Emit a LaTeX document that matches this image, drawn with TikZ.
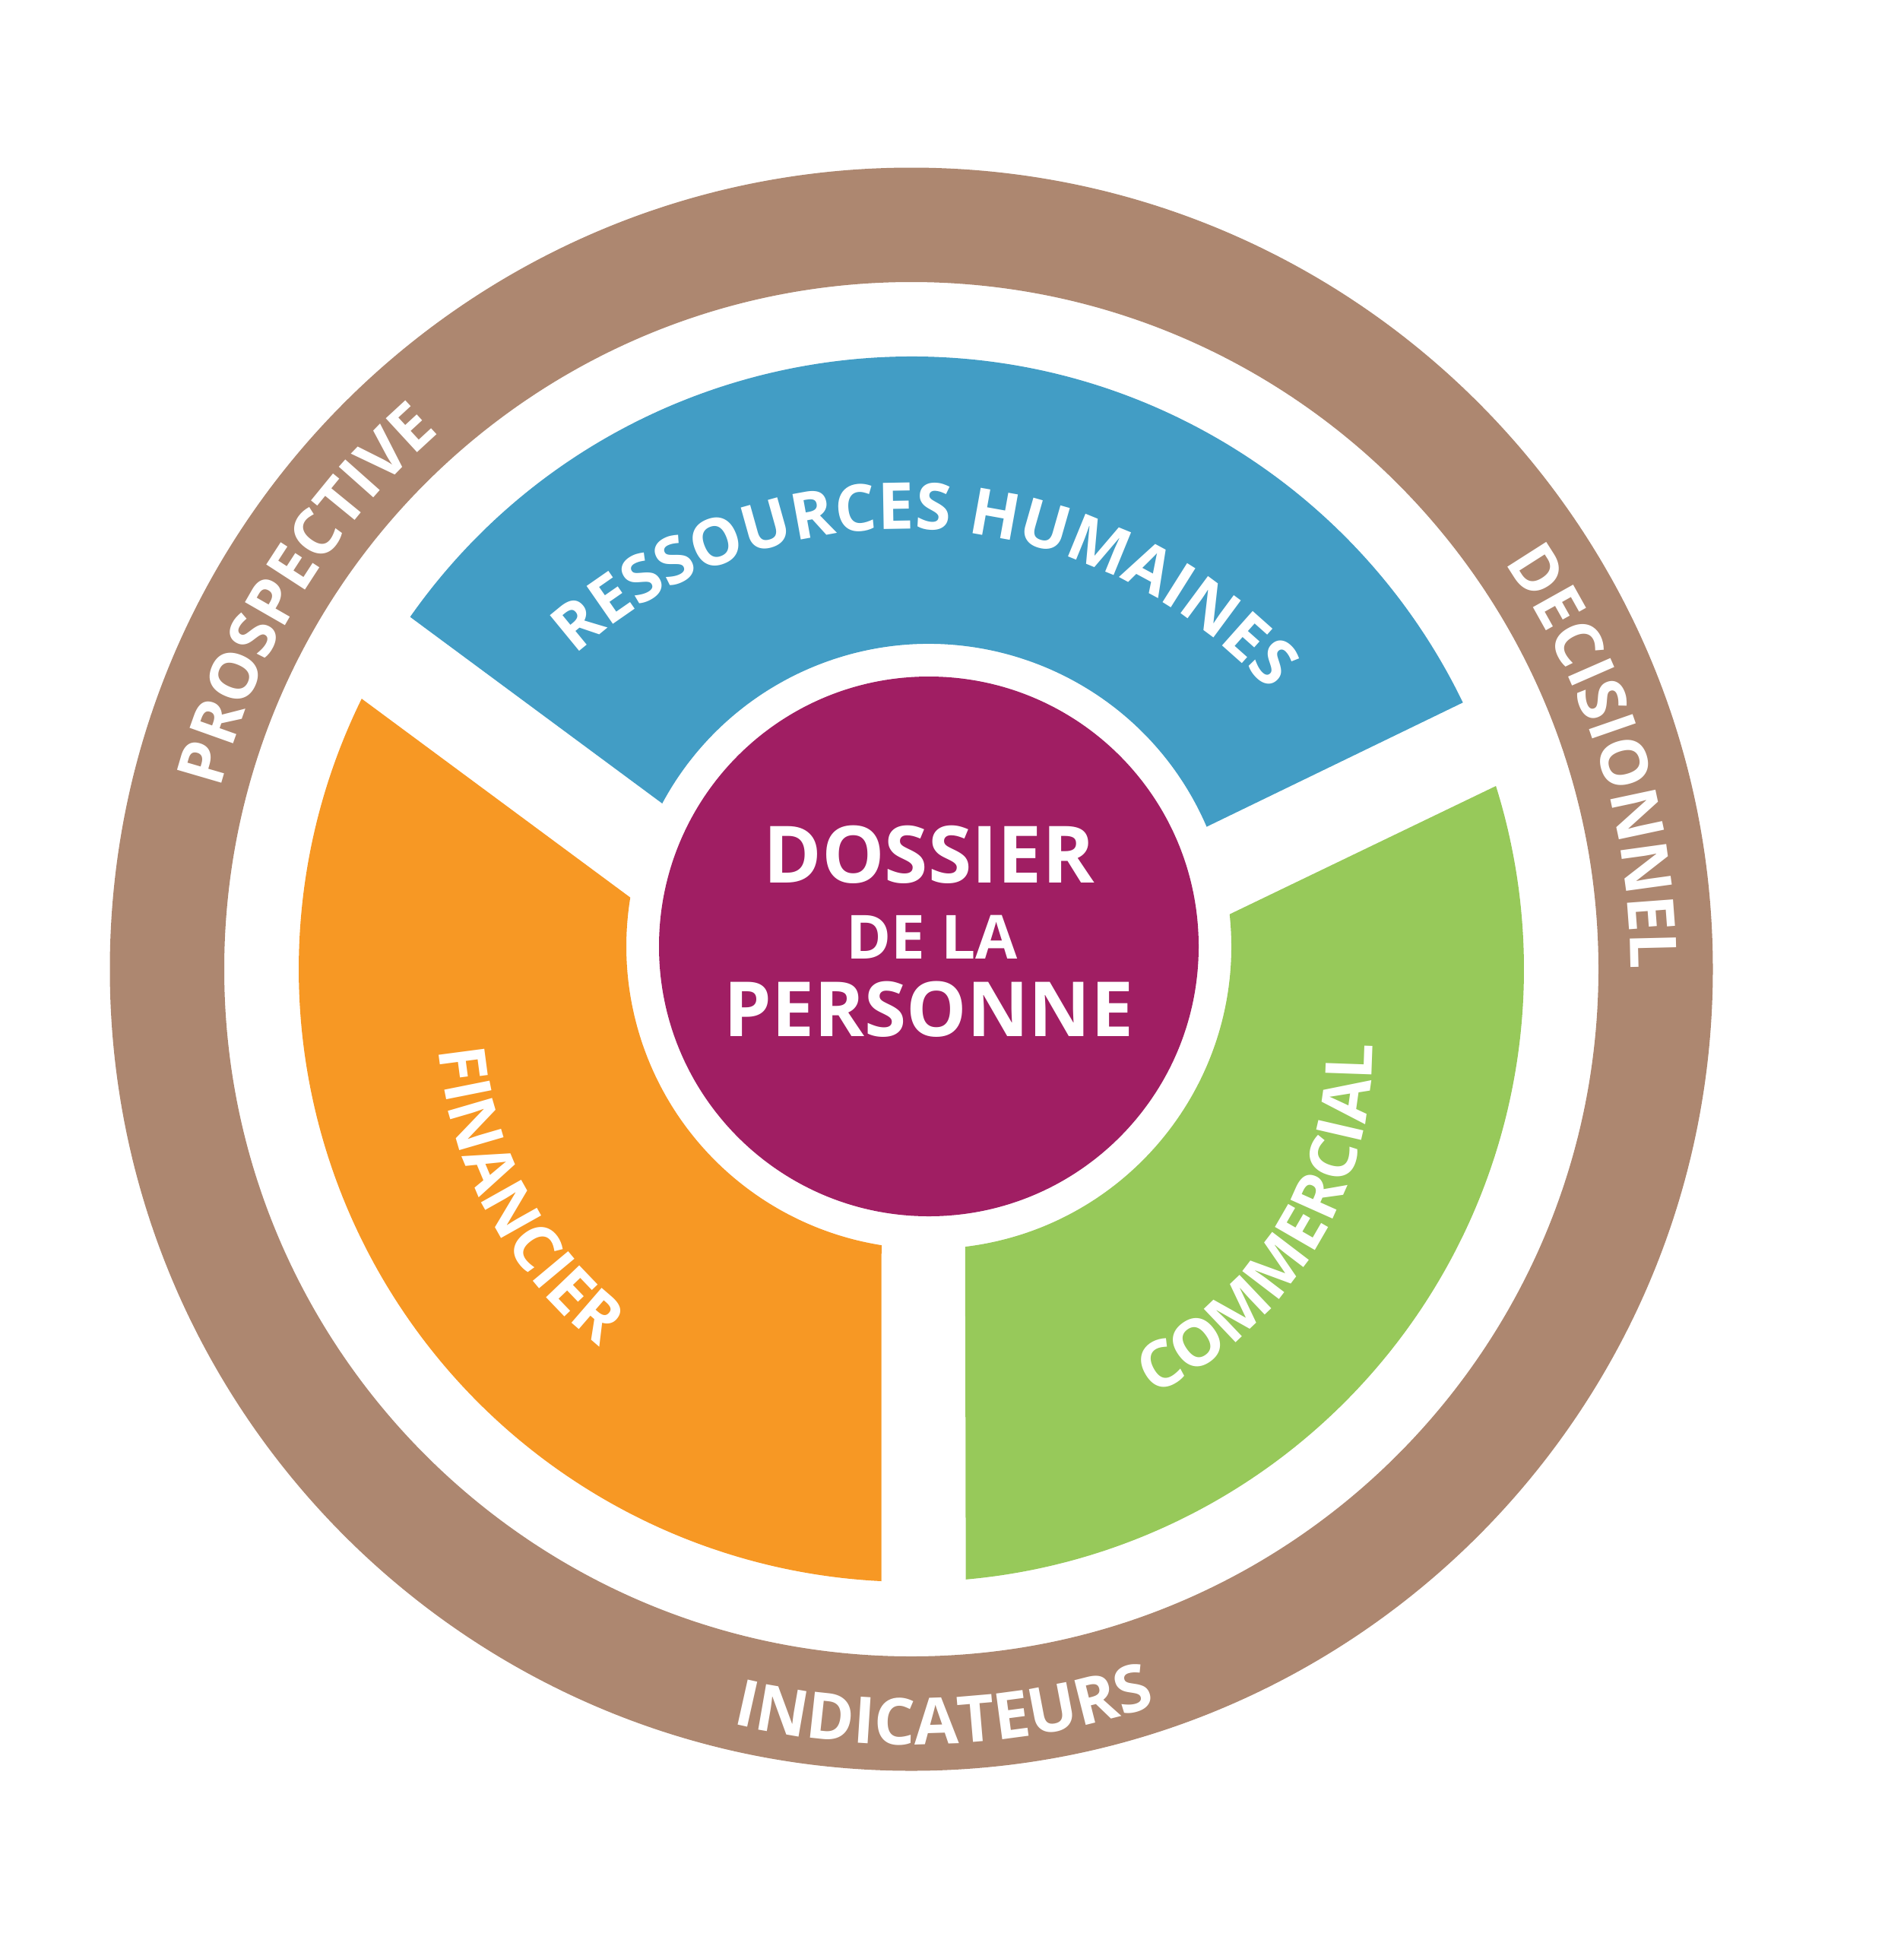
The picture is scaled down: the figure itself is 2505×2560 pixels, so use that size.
\documentclass[tikz,border=0pt]{standalone}
\usepackage{fontspec}
\setmainfont{Open Sans}
\usetikzlibrary{calc,decorations.text}
\definecolor{ringbrown}{HTML}{AD8770}
\definecolor{rhblue}{HTML}{429DC5}
\definecolor{finorange}{HTML}{F79824}
\definecolor{comgreen}{HTML}{97C95A}
\definecolor{hubpurple}{HTML}{A01E63}
\newcommand{\arclab}{\color{white}\bfseries\fontsize{85}{85}\selectfont}
\tikzset{
  ring/.style={fill=ringbrown, even odd rule},
  hub/.style={fill=hubpurple},
  title/.style={text=white, anchor=base, inner sep=0pt},
  curved/.style={decorate, decoration={text along path, text align=center, text={|\arclab|#1}}},
}

\begin{document}
\begin{tikzpicture}[x=1pt, y=1pt]
  \useasboundingbox (0,0) rectangle (2505,-2560);
  \coordinate (ring) at (1199,-1275);
  \coordinate (hub) at (1222,-1245);
  \coordinate (rhc) at (1190,-1344);
  \coordinate (finc) at (1135,-1331);
  \coordinate (comc) at (1303.5,-1380);
  % outer ring
  \fill[ring] (ring) circle (1054.5) (ring) circle (904);
  % the three sectors
  \fill[rhblue] ($(hub)+(151.8:398)$) -- ($(ring)+(144.9:806)$) arc[start angle=144.9, end angle=25.8, radius=806]
    -- ($(hub)+(23.3:398)$) arc[start angle=23.3, end angle=151.8, radius=398] -- cycle;
  \fill[finorange] ($(hub)+(170.7:398)$) -- ($(ring)+(153.8:806)$) arc[start angle=153.8, end angle=267.2, radius=806]
    -- ($(hub)+(261:398)$) arc[start angle=261, end angle=170.7, radius=398] -- cycle;
  \fill[comgreen] ($(hub)+(6.1:398)$) -- ($(ring)+(17.4:806)$) arc[start angle=17.4, end angle=-84.9, radius=806]
    -- ($(hub)+(-83.1:398)$) arc[start angle=-83.1, end angle=6.1, radius=398] -- cycle;
  % centre
  \fill[hub] (hub) circle (355);
  \node[title, font=\bfseries\fontsize{104}{104}\selectfont] (dossier) at (1222,-1161) {DOSSIER};
  \node[title, font=\bfseries\fontsize{80}{80}\selectfont] (dela) at (1226,-1261.5) {DE LA};
  \node[title, font=\bfseries\fontsize{100}{100}\selectfont] (personne) at (1222,-1363.5) {PERSONNE};
  % curved labels
  \path[curved=RESSOURCES HUMAINES] ($(rhc)+(157:648)$) arc[start angle=157, end angle=17, radius=648];
  \path[curved=FINANCIER] ($(finc)+(148.5:560)$) arc[start angle=148.5, end angle=268.5, radius=560];
  \path[curved=COMMERCIAL] ($(comc)+(-92.1:502)$) arc[start angle=-92.1, end angle=27.9, radius=502];
  \path[curved=PROSPECTIVE] ($(ring)+(208.3:940)$) arc[start angle=208.3, end angle=88.3, radius=940];
  \path[curved=DECISIONNEL] ($(ring)+(77.2:946)$) arc[start angle=77.2, end angle=-42.8, radius=946];
  \path[curved=INDICATEURS] ($(ring)+(212.5:1020)$) arc[start angle=212.5, end angle=332.5, radius=1020];
\end{tikzpicture}
\end{document}
